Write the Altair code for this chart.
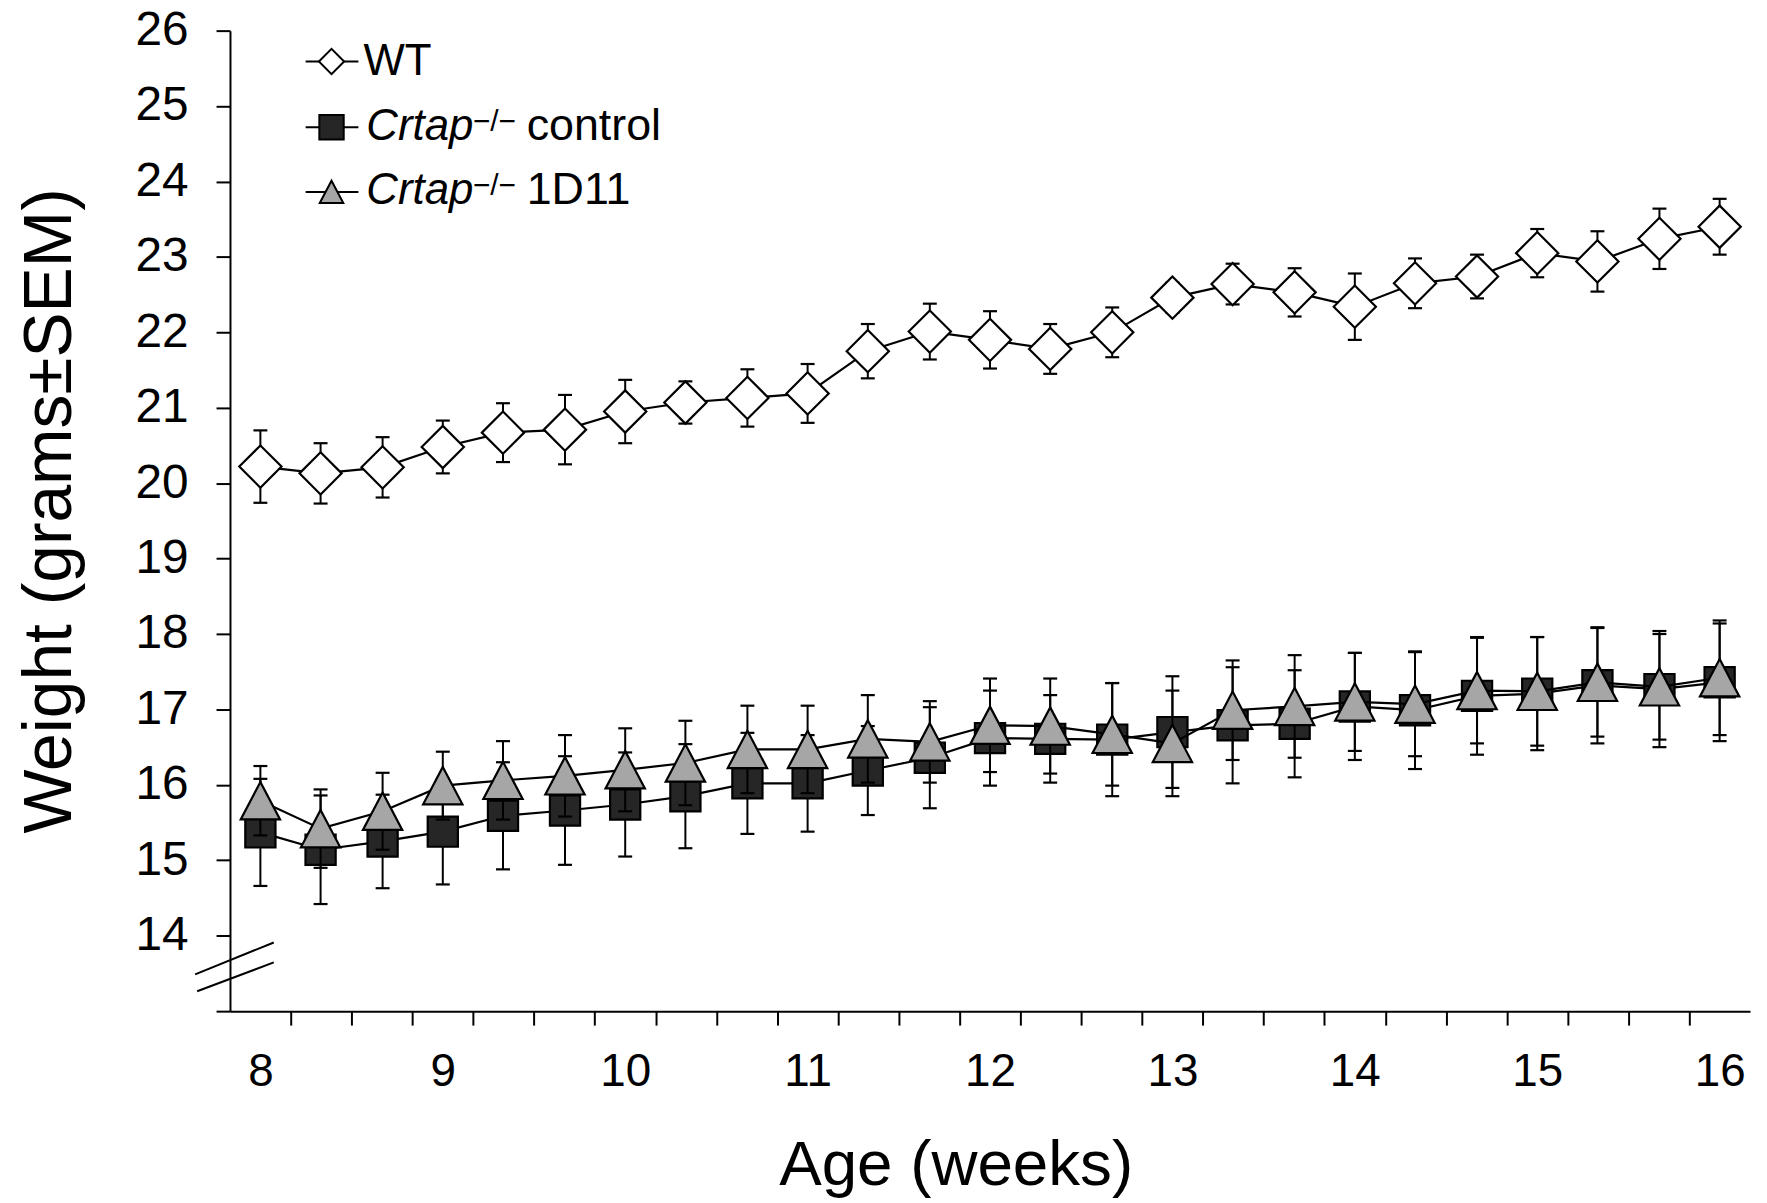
import altair as alt
import pandas as pd

# ---------------- data ----------------
ages = [8.00, 8.33, 8.67, 9.00, 9.33, 9.67, 10.00, 10.33, 10.67, 11.00, 11.33, 11.67,
        12.00, 12.33, 12.67, 13.00, 13.33, 13.67, 14.00, 14.33, 14.67, 15.00, 15.33,
        15.67, 16.00]

wt_mean = [20.22, 20.13, 20.21, 20.48, 20.67, 20.71, 20.95, 21.07, 21.13, 21.19, 21.75, 22.01,
           21.90, 21.78, 22.00, 22.46, 22.64, 22.53, 22.34, 22.65, 22.74, 23.05, 22.94, 23.24, 23.40]
wt_sem = [0.48, 0.40, 0.40, 0.35, 0.39, 0.46, 0.42, 0.28, 0.38, 0.39, 0.36, 0.37,
          0.38, 0.33, 0.33, 0.20, 0.27, 0.32, 0.44, 0.33, 0.29, 0.32, 0.40, 0.40, 0.37]

ctrl_mean = [15.37, 15.14, 15.25, 15.38, 15.59, 15.66, 15.74, 15.85, 16.02, 16.02, 16.19, 16.36,
             16.62, 16.61, 16.60, 16.70, 16.79, 16.81, 17.04, 16.99, 17.18, 17.21, 17.32, 17.27, 17.36]
ctrl_sem = [0.71, 0.72, 0.62, 0.70, 0.71, 0.72, 0.69, 0.69, 0.67, 0.64, 0.59, 0.67,
            0.63, 0.58, 0.75, 0.74, 0.77, 0.71, 0.71, 0.78, 0.78, 0.75, 0.77, 0.77, 0.78]

d11_mean = [15.79, 15.42, 15.65, 15.99, 16.06, 16.12, 16.20, 16.29, 16.47, 16.47, 16.61, 16.57,
            16.79, 16.78, 16.67, 16.55, 16.99, 17.04, 17.10, 17.07, 17.25, 17.24, 17.36, 17.30, 17.42]
d11_sem = [0.46, 0.52, 0.51, 0.45, 0.52, 0.54, 0.55, 0.56, 0.58, 0.58, 0.58, 0.54,
           0.62, 0.63, 0.68, 0.70, 0.66, 0.68, 0.65, 0.69, 0.70, 0.72, 0.72, 0.70, 0.76]

legend_main = ["WT", "Crtap", "Crtap"]
legend_sup = ["", "\u2212/\u2212", "\u2212/\u2212"]
legend_rest = ["", "control", "1D11"]

x_title = "Age (weeks)"
y_title = "Weight (grams\u00b1SEM)"

FONT = "Liberation Sans"


def frame(mean, sem):
    return pd.DataFrame({
        "age": ages,
        "w": mean,
        "lo": [m - s for m, s in zip(mean, sem)],
        "hi": [m + s for m, s in zip(mean, sem)],
    })


wt_df = frame(wt_mean, wt_sem)
ctrl_df = frame(ctrl_mean, ctrl_sem)
d11_df = frame(d11_mean, d11_sem)

# ---------------- scales / axes ----------------
x_lo, x_hi = 8 - 1 / 6, 16 + 1 / 6
x_bounds = [round(x_lo + k / 3, 5) for k in range(26)]
x_vals = sorted(x_bounds + list(range(8, 17)))
is_int = "abs(datum.value - round(datum.value)) < 0.01"

x_scale = alt.Scale(domain=[x_lo, x_hi], nice=False, zero=False)
y_scale = alt.Scale(domain=[13, 26], nice=False, zero=False)

x_axis = alt.Axis(
    values=x_vals,
    title=x_title,
    labelExpr=is_int + " ? toString(round(datum.value)) : ''",
    tickOpacity={"condition": {"test": is_int, "value": 0}, "value": 1},
    labelOverlap=False,
    labelFlush=False,
    labelFontSize=46,
    labelPadding=25,
    titleFontSize=64,
    titleX=729,
    titleY=174,
    titleAlign="center",
    titleBaseline="alphabetic",
)
y_axis = alt.Axis(
    values=list(range(13, 27)),
    title=y_title,
    labelExpr="datum.value == 13 ? '' : datum.label",
    labelFontSize=48,
    labelPadding=28,
    titleFontSize=68,
    titleAngle=270,
    titleX=-160,
    titleY=482,
    titleAlign="center",
    titleBaseline="alphabetic",
)

X = alt.X("age:Q", scale=x_scale, axis=x_axis)


def Y(field):
    return alt.Y(field, type="quantitative", scale=y_scale, axis=y_axis)


def series(df, shape, fill, size):
    base = alt.Chart(df)
    line = base.mark_line(color="black", strokeWidth=2.2).encode(x=X, y=Y("w"))
    stem = base.mark_rule(color="black", strokeWidth=2).encode(x=X, y=Y("lo"), y2="hi")
    cap_hi = base.mark_tick(orient="horizontal", size=14, thickness=2.2, color="black",
                            opacity=1).encode(x=X, y=Y("hi"))
    cap_lo = base.mark_tick(orient="horizontal", size=14, thickness=2.2, color="black",
                            opacity=1).encode(x=X, y=Y("lo"))
    pts = base.mark_point(shape=shape, filled=True, fill=fill, stroke="black",
                          strokeWidth=2.2, size=size, opacity=1).encode(x=X, y=Y("w"))
    return [line, stem, cap_hi, cap_lo, pts]


TRI = "M0,-0.95L1,0.95L-1,0.95Z"

layers = []
layers += series(wt_df, "diamond", "white", 1800)
layers += series(ctrl_df, "square", "#262626", 920)
layers += series(d11_df, TRI, "#a6a6a6", 1560)

# ---------------- legend (drawn in pixel space inside the plot) ----------------
one = pd.DataFrame({"k": [0]})
leg_rows = [
    ("diamond", "white", 640, 31, 45),
    ("square", "#262626", 600, 97, 110),
    (TRI, "#a6a6a6", 560, 162, 174),
]
for i, (shape, fill, size, ymid, ybase) in enumerate(leg_rows):
    b = alt.Chart(one)
    layers.append(b.mark_rule(color="black", strokeWidth=2).encode(
        x=alt.value(76), x2=alt.value(129), y=alt.value(ymid)))
    layers.append(b.mark_point(shape=shape, filled=True, fill=fill, stroke="black",
                               strokeWidth=2, size=size, opacity=1).encode(
        x=alt.value(102), y=alt.value(ymid)))
    if i == 0:
        layers.append(b.mark_text(align="left", baseline="alphabetic", font=FONT,
                                  fontSize=44, color="black", text=legend_main[i]).encode(
            x=alt.value(134), y=alt.value(ybase)))
    else:
        layers.append(b.mark_text(align="left", baseline="alphabetic", font=FONT,
                                  fontSize=44, fontStyle="italic", color="black",
                                  text=legend_main[i]).encode(
            x=alt.value(137), y=alt.value(ybase)))
        layers.append(b.mark_text(align="left", baseline="alphabetic", font=FONT,
                                  fontSize=30, color="black", text=legend_sup[i]).encode(
            x=alt.value(244), y=alt.value(ybase - 9)))
        layers.append(b.mark_text(align="left", baseline="alphabetic", font=FONT,
                                  fontSize=45, color="black", text=legend_rest[i]).encode(
            x=alt.value(298), y=alt.value(ybase)))

# ---------------- axis break marks ----------------
brk = alt.Chart(one)
layers.append(brk.mark_rule(color="black", strokeWidth=2).encode(
    x=alt.value(-35), y=alt.value(948), x2=alt.value(44), y2=alt.value(916)))
layers.append(brk.mark_rule(color="black", strokeWidth=2).encode(
    x=alt.value(-33), y=alt.value(965), x2=alt.value(44), y2=alt.value(936)))

chart = alt.layer(*layers).properties(
    width=1527,
    height=985,
    padding={"left": 223, "top": 20, "right": 9, "bottom": 192},
    autosize=alt.AutoSizeParams(type="none"),
    background="white",
).configure_view(
    stroke=None
).configure_axis(
    grid=False,
    domainColor="black",
    domainWidth=2,
    tickColor="black",
    tickWidth=2,
    tickSize=14,
    labelColor="black",
    titleColor="black",
    labelFont=FONT,
    titleFont=FONT,
    titleFontWeight="normal",
)

chart.save("out.html", embed_options={"renderer": "svg", "actions": False})
